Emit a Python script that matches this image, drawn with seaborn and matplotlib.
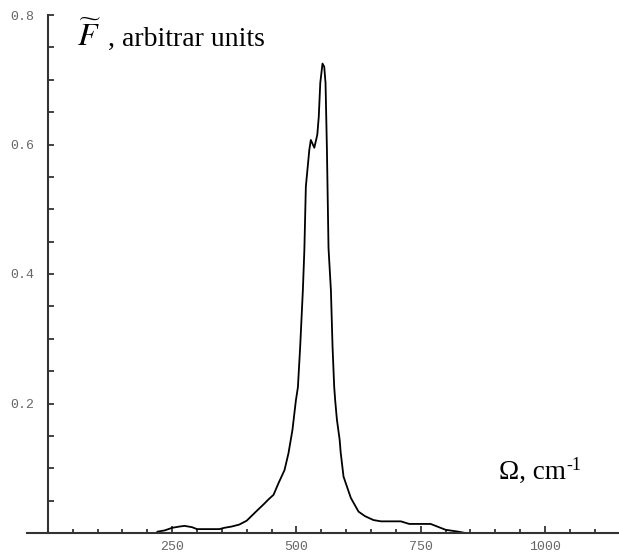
import numpy as np
import pandas as pd
import matplotlib
matplotlib.use("Agg")
import matplotlib.pyplot as plt
import seaborn as sns

# Data
omega = [220, 235, 250, 265, 275, 290, 300, 320, 345, 355, 370, 385, 400, 420,
         435, 444, 454, 464, 476, 484, 492, 499, 503, 507.6, 513, 516, 519, 526,
         529, 536, 542, 545, 548, 552.5, 556, 558.6, 561.4, 564.6, 569.4, 572.7,
         576, 578, 581.5, 587, 589, 594.8, 609.6, 625, 638, 655, 670, 710, 727,
         770, 800, 826, 840]
intensity = [0.002, 0.004, 0.008, 0.010, 0.011, 0.009, 0.006, 0.006, 0.006, 0.008,
             0.010, 0.013, 0.019, 0.034, 0.045, 0.052, 0.059, 0.077, 0.097, 0.123,
             0.159, 0.205, 0.225, 0.288, 0.375, 0.437, 0.535, 0.592, 0.607, 0.595,
             0.615, 0.643, 0.695, 0.725, 0.720, 0.695, 0.592, 0.440, 0.375, 0.288,
             0.226, 0.205, 0.175, 0.144, 0.125, 0.087, 0.054, 0.033, 0.026, 0.020,
             0.018, 0.018, 0.014, 0.014, 0.005, 0.002, 0.0]

x_major = [250, 500, 750, 1000]
x_minor = list(range(50, 1101, 50))
y_major = [0.2, 0.4, 0.6, 0.8]
y_minor = [round(0.05 * i, 2) for i in range(1, 17)]

df = pd.DataFrame({"omega": omega, "F": intensity})

sns.set_style("white")
plt.rcParams["mathtext.fontset"] = "stix"

fig = plt.figure(figsize=(6.19, 5.57), dpi=100)
W, H = 619, 557
ax = fig.add_axes([27 / W, (H - 533) / H, 592 / W, 518 / H])

sns.lineplot(data=df, x="omega", y="F", ax=ax, color="black", linewidth=1.3,
             sort=False)

ax.set_xlim(-42, 1149)
ax.set_ylim(0, 0.8)
ax.set_xlabel("")
ax.set_ylabel("")

for s in ["top", "right"]:
    ax.spines[s].set_visible(False)
ax.spines["left"].set_position(("data", 0))
ax.spines["bottom"].set_position(("data", 0))
for s in ["left", "bottom"]:
    ax.spines[s].set_color("#333333")
    ax.spines[s].set_linewidth(1.5)

ax.set_xticks(x_major)
ax.set_xticks([v for v in x_minor if v not in x_major], minor=True)
ax.set_yticks(y_major)
ax.set_yticks([v for v in y_minor if v not in y_major], minor=True)
ax.set_xticklabels([str(v) for v in x_major])
ax.set_yticklabels([f"{v:.1f}" for v in y_major])

ax.tick_params(axis="x", which="major", direction="in", length=5, width=1.2,
               color="#222222", pad=6, labelsize=9.5, labelcolor="#666666",
               bottom=True)
ax.tick_params(axis="x", which="minor", direction="in", length=3, width=1.2,
               color="#222222", bottom=True)
ax.tick_params(axis="y", which="both", direction="in", length=4, width=1.2,
               color="#222222", pad=10, labelsize=9.5, labelcolor="#666666",
               left=True)
for lab in ax.get_xticklabels() + ax.get_yticklabels():
    lab.set_family("Liberation Mono")

fig.text(77 / W, 1 - 46 / H, r"$\widetilde{F}$", fontsize=23, color="black",
         ha="left", va="baseline")
fig.text(108 / W, 1 - 46 / H, ", arbitrar units", fontsize=20,
         family="Liberation Serif", color="black", ha="left", va="baseline")
fig.text(499 / W, 1 - 479 / H, "Ω, cm", fontsize=19.5,
         family="Liberation Serif", color="black", ha="left", va="baseline")
fig.text(566 / W, 1 - 470 / H, "-1", fontsize=13,
         family="Liberation Serif", color="black", ha="left", va="baseline")

fig.savefig("out.png", dpi=100)
